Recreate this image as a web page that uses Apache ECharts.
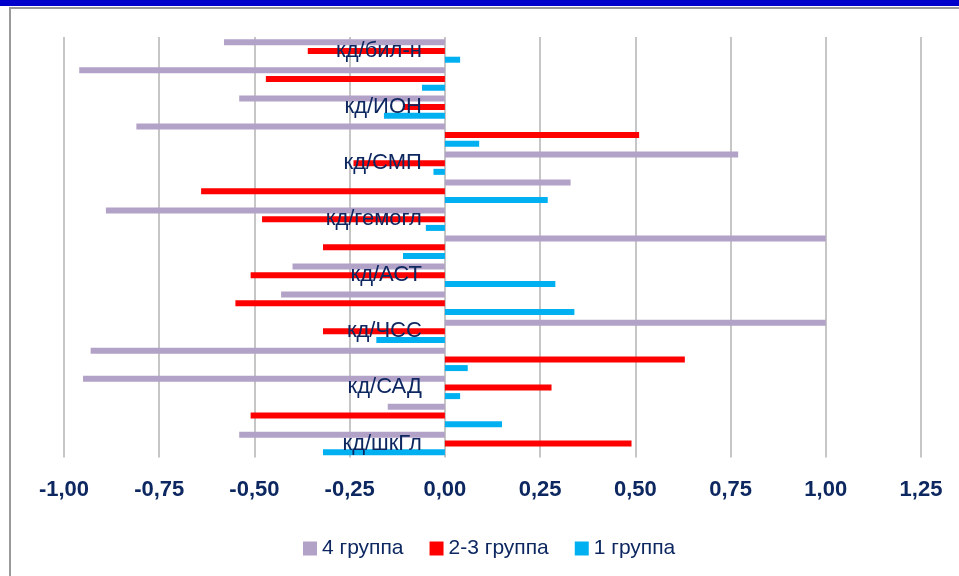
<!DOCTYPE html>
<html>
<head>
<meta charset="utf-8">
<script src="https://cdn.jsdelivr.net/npm/echarts@6/dist/echarts.min.js"></script>
<style>
  html, body { margin: 0; padding: 0; background: #fff; }
  #chart { width: 959px; height: 576px; }
</style>
</head>
<body>
<div id="chart"></div>
<script>
// Rows from bottom to top; blank names are rows whose labels are skipped.
const categories = ['кд/шкГл', '', 'кд/САД', '', 'кд/ЧСС', '', 'кд/АСТ', '', 'кд/гемогл', '', 'кд/СМП', '', 'кд/ИОН', '', 'кд/бил-н'];

const group4 = [-0.54, -0.15, -0.95, -0.93, 1.00, -0.43, -0.40, 1.00, -0.89, 0.33, 0.77, -0.81, -0.54, -0.96, -0.58];
const group23 = [0.49, -0.51, 0.28, 0.63, -0.32, -0.55, -0.51, -0.32, -0.48, -0.64, -0.24, 0.51, -0.11, -0.47, -0.36];
const group1 = [-0.32, 0.15, 0.04, 0.06, -0.18, 0.34, 0.29, -0.11, -0.05, 0.27, -0.03, 0.09, -0.16, -0.06, 0.04];

const seriesNames = ['4 группа', '2-3 группа', '1 группа'];
const tickMin = -1, tickMax = 1.25, tickStep = 0.25;

const navy = '#0D2760';
const font = "'Liberation Sans', Arial, sans-serif";

const gridLeft = 64, gridRight = 38;
const chartWidth = 959;
// the category axis sits on the zero line of the value axis
const zeroShift = (0 - tickMin) / (tickMax - tickMin) * (chartWidth - gridLeft - gridRight);

const chart = echarts.init(document.getElementById('chart'), null, { renderer: 'canvas' });

function barSeries(name, values, color) {
  return {
    name: name,
    type: 'bar',
    data: values,
    barWidth: 6,
    barGap: '45%',
    itemStyle: { color: color },
    emphasis: { disabled: true }
  };
}

chart.setOption({
  animation: false,
  backgroundColor: '#ffffff',
  textStyle: { fontFamily: font },
  graphic: [
    { type: 'rect', shape: { x: 0, y: 0, width: 959, height: 6 }, style: { fill: '#0000CC' }, silent: true },
    { type: 'line', shape: { x1: 9, y1: 8, x2: 959, y2: 8 }, style: { stroke: '#9A9A9A', lineWidth: 2 }, silent: true },
    { type: 'line', shape: { x1: 10, y1: 8, x2: 10, y2: 576 }, style: { stroke: '#9A9A9A', lineWidth: 2 }, silent: true }
  ],
  grid: { left: gridLeft, right: gridRight, top: 37, bottom: 118.5, containLabel: false, outerBoundsMode: 'none' },
  legend: {
    data: seriesNames,
    left: 298,
    top: 533,
    itemWidth: 14,
    itemHeight: 14,
    itemGap: 26,
    icon: 'rect',
    textStyle: { color: navy, fontSize: 21, fontFamily: font }
  },
  xAxis: {
    type: 'value',
    min: tickMin,
    max: tickMax,
    interval: tickStep,
    axisLine: { show: false },
    axisTick: { show: false },
    splitLine: { show: true, lineStyle: { color: '#B3B3B3', width: 1.5 } },
    axisLabel: {
      color: navy,
      fontSize: 22,
      fontWeight: 'bold',
      margin: 21,
      fontFamily: font,
      formatter: v => v.toFixed(2).replace('.', ',')
    }
  },
  yAxis: {
    type: 'category',
    data: categories,
    position: 'left',
    offset: -zeroShift,
    z: 10,
    axisLine: { show: false, onZero: false },
    axisTick: { show: false },
    splitLine: { show: false },
    axisLabel: {
      color: navy,
      fontSize: 22,
      margin: 23,
      interval: 0,
      fontFamily: font,
      verticalAlign: 'middle',
      padding: [4, 0, 0, 0]
    }
  },
  series: [
    barSeries(seriesNames[0], group4, '#B3A2C7'),
    barSeries(seriesNames[1], group23, '#FF0000'),
    barSeries(seriesNames[2], group1, '#00B0F0')
  ]
});
</script>
</body>
</html>
